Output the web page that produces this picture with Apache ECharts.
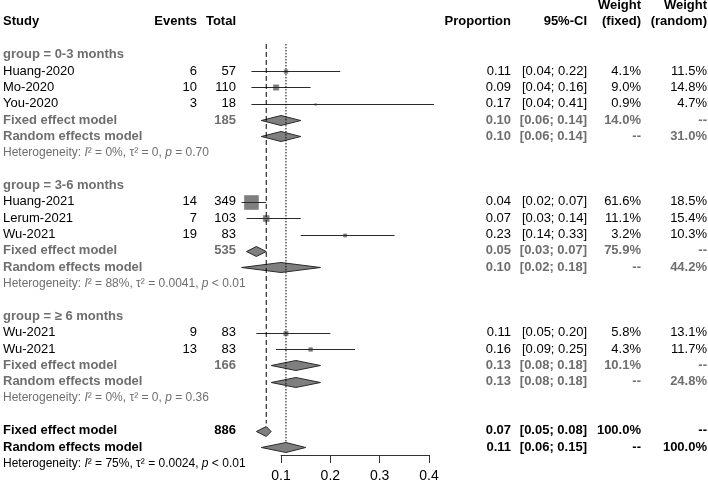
<!DOCTYPE html>
<html><head><meta charset="utf-8">
<script src="https://cdn.jsdelivr.net/npm/echarts@6/dist/echarts.min.js"></script>
<style>html,body{margin:0;padding:0;background:#fff}#c{width:708px;height:485px}</style>
</head><body><div id="c"></div>
<script>
// ---------- data ----------
const groupNames = ['group = 0-3 months', 'group = 3-6 months', 'group = \u2265 6 months'];
const studyNames = ['Huang-2020', 'Mo-2020', 'You-2020', 'Huang-2021', 'Lerum-2021', 'Wu-2021', 'Wu-2021', 'Wu-2021'];
const studyGroup = [0, 0, 0, 1, 1, 1, 2, 2];
const studyEvents = [6, 10, 3, 14, 7, 19, 9, 13];
const studyTotal = [57, 110, 18, 349, 103, 83, 83, 83];
const studyProp = [0.11, 0.09, 0.17, 0.04, 0.07, 0.23, 0.11, 0.16];
const studyLower = [0.04, 0.04, 0.04, 0.02, 0.03, 0.14, 0.05, 0.09];
const studyUpper = [0.22, 0.16, 0.41, 0.07, 0.14, 0.33, 0.20, 0.25];
const studyWFixed = [4.1, 9.0, 0.9, 61.6, 11.1, 3.2, 5.8, 4.3];
const studyWRandom = [11.5, 14.8, 4.7, 18.5, 15.4, 10.3, 13.1, 11.7];
const groupTotal = [185, 535, 166];
const groupFixedEst = [0.10, 0.05, 0.13];
const groupFixedLower = [0.06, 0.03, 0.08];
const groupFixedUpper = [0.14, 0.07, 0.18];
const groupRandomEst = [0.10, 0.10, 0.13];
const groupRandomLower = [0.06, 0.02, 0.08];
const groupRandomUpper = [0.14, 0.18, 0.18];
const groupWFixed = [14.0, 75.9, 10.1];
const groupWRandom = [31.0, 44.2, 24.8];
const groupI2 = ['0%', '88%', '0%'];
const groupTau2 = ['0', '0.0041', '0'];
const groupP = ['= 0.70', '< 0.01', '= 0.36'];
const overallTotal = 886;
const overallFixedEst = 0.07, overallFixedLower = 0.05, overallFixedUpper = 0.08;
const overallRandomEst = 0.11, overallRandomLower = 0.06, overallRandomUpper = 0.15;
const overallI2 = '75%', overallTau2 = '0.0024', overallP = '< 0.01';
const axisTicks = [0.1, 0.2, 0.3, 0.4];

// ---------- layout (row indices) ----------
const FONT = '"Liberation Sans", Arial, Helvetica, sans-serif';
const BLACK = '#000', GREY = '#6e6e6e';
let row = 0;
const rows = [];
const studyData = [], diamondData = [];
for (let g = 0; g < groupNames.length; g++) {
  rows.push({row: row++, kind: 'group', g});
  studyNames.forEach((n, i) => {
    if (studyGroup[i] !== g) return;
    rows.push({row, kind: 'study', i});
    studyData.push([studyProp[i], studyLower[i], studyUpper[i], row, studyWFixed[i]]);
    row++;
  });
  rows.push({row, kind: 'gfixed', g});
  diamondData.push([groupFixedEst[g], groupFixedLower[g], groupFixedUpper[g], row]);
  row++;
  rows.push({row, kind: 'grandom', g});
  diamondData.push([groupRandomEst[g], groupRandomLower[g], groupRandomUpper[g], row]);
  row++;
  rows.push({row: row++, kind: 'ghet', g});
  row++; // blank
}
const fixedRow = row;
rows.push({row: row, kind: 'ofixed'});
diamondData.push([overallFixedEst, overallFixedLower, overallFixedUpper, row]);
row++;
const randomRow = row;
rows.push({row: row, kind: 'orandom'});
diamondData.push([overallRandomEst, overallRandomLower, overallRandomUpper, row]);
row++;
rows.push({row: row++, kind: 'ohet'});

const crisp = v => Math.round(v) + 0.5;
const fmt2 = v => v.toFixed(2);
const pct = v => v.toFixed(1) + '%';
const ci = (l, u) => '[' + fmt2(l) + '; ' + fmt2(u) + ']';

const chart = echarts.init(document.getElementById('c'), null, {renderer: 'canvas'});
chart.setOption({
  animation: false,
  backgroundColor: '#fff',
  grid: [
    {left: 231.7, width: 222, top: 5.5, height: 474.4},
    {left: 281, width: 148, top: 454, height: 1}
  ],
  xAxis: [
    {gridIndex: 0, type: 'value', min: 0, max: 0.45, show: false},
    {gridIndex: 1, type: 'value', min: 0.1, max: 0.4, interval: 0.1, position: 'bottom',
     axisLine: {show: true, lineStyle: {color: '#333', width: 1}},
     axisTick: {show: true, length: 8, lineStyle: {color: '#333', width: 1}},
     splitLine: {show: false},
     axisLabel: {margin: 14, fontSize: 14, color: '#000', fontFamily: FONT,
       formatter: v => axisTicks.some(t => Math.abs(t - v) < 1e-9) ? v.toFixed(1) : ''}}
  ],
  yAxis: [
    {gridIndex: 0, type: 'value', min: -3, max: 26, inverse: true, show: false},
    {gridIndex: 1, type: 'value', min: 0, max: 1, show: false}
  ],
  series: [
    {type: 'custom', xAxisIndex: 0, yAxisIndex: 0, clip: false, z: 2,
     data: studyData,
     renderItem(params, api) {
       const est = api.value(0), lo = api.value(1), hi = api.value(2), r = api.value(3), w = api.value(4);
       const c = api.coord([est, r]), l = api.coord([lo, r]), h = api.coord([hi, r]);
       const s = 14 * Math.sqrt(w / 61.6);
       const y = crisp(c[1]);
       return {type: 'group', children: [
         {type: 'rect', shape: {x: c[0] - s / 2, y: y - s / 2, width: s, height: s},
          style: {fill: '#7f7f7f', stroke: '#707070', lineWidth: 0.5}},
         {type: 'line', shape: {x1: l[0], y1: y, x2: h[0], y2: y},
          style: {stroke: '#2a2a2a', lineWidth: 1}}
       ]};
     }},
    {type: 'custom', xAxisIndex: 0, yAxisIndex: 0, clip: false, z: 2,
     data: diamondData,
     renderItem(params, api) {
       const est = api.value(0), lo = api.value(1), hi = api.value(2), r = api.value(3);
       const c = api.coord([est, r]), l = api.coord([lo, r]), h = api.coord([hi, r]);
       const y = crisp(c[1]);
       return {type: 'polygon', shape: {points: [[l[0], y], [c[0], y - 5], [h[0], y], [c[0], y + 5]]},
         style: {fill: '#7f7f7f', stroke: '#2a2a2a', lineWidth: 1}};
     }},
    {type: 'line', xAxisIndex: 0, yAxisIndex: 0, symbol: 'none', z: 5, silent: true,
     data: [[overallFixedEst, -0.65], [overallFixedEst, fixedRow - 0.45]],
     lineStyle: {color: '#000', width: 1, type: [5, 3]}},
    {type: 'line', xAxisIndex: 0, yAxisIndex: 0, symbol: 'none', z: 5, silent: true,
     data: [[overallRandomEst, -0.65], [overallRandomEst, randomRow - 0.3]],
     lineStyle: {color: '#000', width: 1, type: [1.5, 1.5]}}
  ]
});

// ---------- text table ----------
const X = {study: 3, events: 197, total: 236, prop: 511, ci: 587, wf: 641, wr: 707};
const els = [];
const yOf = r => chart.convertToPixel({yAxisIndex: 0}, r);
function txt(s, x, r, opt) {
  opt = opt || {};
  els.push({type: 'text', z: 10, silent: true, style: {
    text: String(s), x: x, y: yOf(r), align: opt.align || 'right', verticalAlign: 'middle',
    fontFamily: FONT, fontSize: opt.size || 13, fontWeight: opt.bold ? 'bold' : 'normal',
    fill: opt.color || BLACK, rich: opt.rich}});
}
const H = {bold: true};
txt('Study', X.study, -2, {bold: true, align: 'left'});
txt('Events', X.events, -2, H);
txt('Total', X.total, -2, H);
txt('Proportion', X.prop, -2, H);
txt('95%-CI', X.ci, -2, H);
txt('Weight', X.wf, -3, H); txt('(fixed)', X.wf, -2, H);
txt('Weight', X.wr, -3, H); txt('(random)', X.wr, -2, H);

function hetText(i2, tau2, p) {
  return 'Heterogeneity: {i|I}\u00b2 = ' + i2 + ', \u03c4\u00b2 = ' + tau2 + ', {i|p} ' + p;
}
function het(r, i2, tau2, p, col) {
  txt(hetText(i2, tau2, p), X.study, r, {align: 'left', size: 12, color: col,
    rich: {i: {fontStyle: 'italic', fontFamily: FONT, fontSize: 12, fill: col}}});
}
rows.forEach(o => {
  const r = o.row;
  if (o.kind === 'group') {
    txt(groupNames[o.g], X.study, r, {align: 'left', bold: true, color: GREY});
  } else if (o.kind === 'study') {
    const i = o.i;
    txt(studyNames[i], X.study, r, {align: 'left'});
    txt(studyEvents[i], X.events, r);
    txt(studyTotal[i], X.total, r);
    txt(fmt2(studyProp[i]), X.prop, r);
    txt(ci(studyLower[i], studyUpper[i]), X.ci, r);
    txt(pct(studyWFixed[i]), X.wf, r);
    txt(pct(studyWRandom[i]), X.wr, r);
  } else if (o.kind === 'gfixed') {
    const g = o.g, S = {bold: true, color: GREY};
    txt('Fixed effect model', X.study, r, {align: 'left', bold: true, color: GREY});
    txt(groupTotal[g], X.total, r, S);
    txt(fmt2(groupFixedEst[g]), X.prop, r, S);
    txt(ci(groupFixedLower[g], groupFixedUpper[g]), X.ci, r, S);
    txt(pct(groupWFixed[g]), X.wf, r, S);
    txt('--', X.wr, r, S);
  } else if (o.kind === 'grandom') {
    const g = o.g, S = {bold: true, color: GREY};
    txt('Random effects model', X.study, r, {align: 'left', bold: true, color: GREY});
    txt(fmt2(groupRandomEst[g]), X.prop, r, S);
    txt(ci(groupRandomLower[g], groupRandomUpper[g]), X.ci, r, S);
    txt('--', X.wf, r, S);
    txt(pct(groupWRandom[g]), X.wr, r, S);
  } else if (o.kind === 'ghet') {
    het(r, groupI2[o.g], groupTau2[o.g], groupP[o.g], GREY);
  } else if (o.kind === 'ofixed') {
    txt('Fixed effect model', X.study, r, {align: 'left', bold: true});
    txt(overallTotal, X.total, r, H);
    txt(fmt2(overallFixedEst), X.prop, r, H);
    txt(ci(overallFixedLower, overallFixedUpper), X.ci, r, H);
    txt('100.0%', X.wf, r, H);
    txt('--', X.wr, r, H);
  } else if (o.kind === 'orandom') {
    txt('Random effects model', X.study, r, {align: 'left', bold: true});
    txt(fmt2(overallRandomEst), X.prop, r, H);
    txt(ci(overallRandomLower, overallRandomUpper), X.ci, r, H);
    txt('--', X.wf, r, H);
    txt('100.0%', X.wr, r, H);
  } else if (o.kind === 'ohet') {
    het(r, overallI2, overallTau2, overallP, BLACK);
  }
});
chart.setOption({graphic: {elements: els}});
</script>
</body></html>
